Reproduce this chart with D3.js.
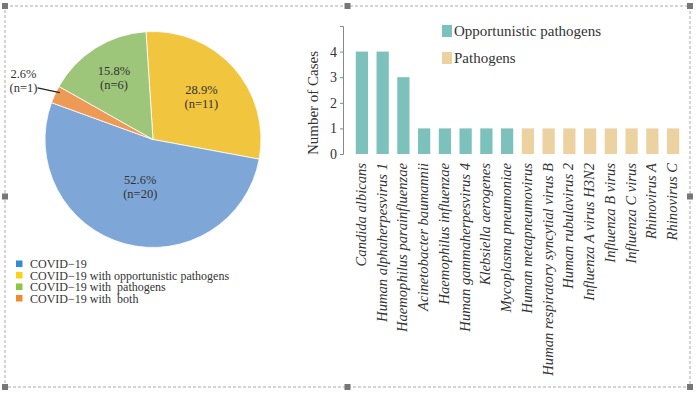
<!DOCTYPE html>
<html>
<head>
<meta charset="utf-8">
<script src="https://cdn.jsdelivr.net/npm/d3@7"></script>
<style>
  body { margin: 0; background: #fff; }
  svg text { font-family: "Liberation Serif", "Times New Roman", Times, serif !important; fill: #333; }
</style>
</head>
<body>
<div id="chart"></div>
<script>
// pie data
const groups = ["COVID−19", "COVID−19 with opportunistic pathogens", "COVID−19 with  pathogens", "COVID−19 with  both"]
const groupCounts = [20, 11, 6, 1]
// drawing order round the pie, clockwise from the top
const pieOrder = [1, 0, 3, 2]

// bar data
const organisms = ["Candida albicans", "Human alphaherpesvirus 1", "Haemophilus parainfluenzae",
  "Acinetobacter baumannii", "Haemophilus influenzae", "Human gammaherpesvirus 4",
  "Klebsiella aerogenes", "Mycoplasma pneumoniae", "Human metapneumovirus",
  "Human respiratory syncytial virus B", "Human rubulavirus 2", "Influenza A virus H3N2",
  "Influenza B virus", "Influenza C virus", "Rhinovirus A", "Rhinovirus C"]
const cases = [4, 4, 3, 1, 1, 1, 1, 1, 1, 1, 1, 1, 1, 1, 1, 1]
const kind = ["Opportunistic pathogens", "Opportunistic pathogens", "Opportunistic pathogens",
  "Opportunistic pathogens", "Opportunistic pathogens", "Opportunistic pathogens",
  "Opportunistic pathogens", "Opportunistic pathogens", "Pathogens", "Pathogens", "Pathogens",
  "Pathogens", "Pathogens", "Pathogens", "Pathogens", "Pathogens"]
const kinds = ["Opportunistic pathogens", "Pathogens"]
const yTicks = [0, 1, 2, 3, 4, 5]

const w = 700
const h = 393
const serif = "'Liberation Serif', 'Times New Roman', serif"
const svg = d3.select("#chart")
  .append("svg")
  .attr("width", w)
  .attr("height", h)
  .attr("font-family", serif)

// ---------- pie ----------
const sliceColors = ["#7ea7d8", "#f1c53e", "#9dc67b", "#ee9a57"]
const legendColors = ["#2f8ed2", "#f8d21c", "#8dc641", "#ef8a2d"]
const cx = 153, cy = 139.5, R = 108
const labelR = [0.45, 0.6, 0.68, 1.32]
const total = d3.sum(groupCounts)

const startA = -0.065
const pie = d3.pie()
  .sort(null)
  .value(i => groupCounts[i])
  .startAngle(startA)
  .endAngle(startA + 2 * Math.PI)
const arcs = pie(pieOrder)
const arc = d3.arc().innerRadius(0).outerRadius(R)

const pg = svg.append("g").attr("transform", `translate(${cx},${cy})`)
pg.selectAll("path")
  .data(arcs)
  .enter()
  .append("path")
  .attr("d", arc)
  .attr("fill", d => sliceColors[d.data])
  .attr("stroke", "#fff")
  .attr("stroke-width", 0.8)

const pos = (d, r) => {
  const a = (d.startAngle + d.endAngle) / 2
  return [Math.sin(a) * r, -Math.cos(a) * r]
}
arcs.forEach(d => {
  const i = d.data
  const [lx, ly] = pos(d, R * labelR[i])
  const t = pg.append("text")
    .attr("text-anchor", "middle")
    .attr("font-size", 12.5)
    .attr("fill", "#333")
  t.append("tspan").attr("x", lx).attr("y", ly - 2).text(d3.format(".1f")(groupCounts[i] / total * 100) + "%")
  t.append("tspan").attr("x", lx).attr("y", ly + 12).text(`(n=${groupCounts[i]})`)
  if (labelR[i] > 1) {
    const [ax, ay] = pos(d, R * 0.95)
    pg.append("line")
      .attr("x1", lx + 14).attr("y1", ly + 8)
      .attr("x2", ax).attr("y2", ay - 4)
      .attr("stroke", "#222")
      .attr("stroke-width", 1.3)
  }
})

const lg = svg.append("g").attr("transform", "translate(16,259.5)")
groups.forEach((g, i) => {
  lg.append("rect")
    .attr("x", 0).attr("y", i * 11.5 + 1)
    .attr("width", 6.5).attr("height", 6.5)
    .attr("fill", legendColors[i])
  lg.append("text")
    .attr("x", 14).attr("y", i * 11.5 + 8.5)
    .attr("font-size", 12)
    .attr("fill", "#333")
    .style("white-space", "pre")
    .text(g)
})

// ---------- bars ----------
const barColor = d3.scaleOrdinal().domain(kinds).range(["#7cc1bb", "#ecd2a0"])
const x = d3.scaleBand()
  .domain(organisms)
  .range([345, 690])
  .paddingInner(0.41)
  .paddingOuter(0.52)
const y = d3.scaleLinear().domain([0, 5]).range([154, 26])

svg.selectAll(".bar")
  .data(organisms)
  .enter()
  .append("rect")
  .attr("class", "bar")
  .attr("x", d => x(d))
  .attr("width", x.bandwidth())
  .attr("y", (d, i) => y(cases[i]))
  .attr("height", (d, i) => y(0) - y(cases[i]))
  .attr("fill", (d, i) => barColor(kind[i]))

const yAxis = d3.axisLeft(y)
  .tickValues(yTicks)
  .tickFormat(v => v === 5 ? "" : v)
  .tickSize(3)
  .tickPadding(3)
const ya = svg.append("g")
  .attr("transform", "translate(343,0)")
  .call(yAxis)
ya.attr("font-family", serif)
ya.select(".domain").attr("stroke", "#888")
ya.selectAll(".tick line").attr("stroke", "#888")
ya.selectAll(".tick text")
  .attr("font-size", 14)
  .attr("fill", "#333")

svg.append("text")
  .attr("transform", "rotate(-90)")
  .attr("x", -103)
  .attr("y", 318)
  .attr("text-anchor", "middle")
  .attr("font-size", 15)
  .text("Number of Cases")

svg.selectAll(".xlab")
  .data(organisms)
  .enter()
  .append("text")
  .attr("class", "xlab")
  .attr("transform", d => `translate(${x(d) + x.bandwidth() / 2 + 4},163) rotate(-90)`)
  .attr("text-anchor", "end")
  .attr("font-size", 14.6)
  .attr("font-style", "italic")
  .text(d => d)

const bl = svg.append("g").attr("transform", "translate(442,25)")
kinds.forEach((k, i) => {
  bl.append("rect")
    .attr("x", 0).attr("y", i * 27)
    .attr("width", 10).attr("height", 12)
    .attr("fill", barColor(k))
  bl.append("text")
    .attr("x", 12).attr("y", i * 27 + 11)
    .attr("font-size", 15)
    .text(k)
})

// ---------- selection frame ----------
const fx0 = 5, fy0 = 6, fx1 = 690, fy1 = 387
svg.append("rect")
  .attr("x", fx0).attr("y", fy0)
  .attr("width", fx1 - fx0).attr("height", fy1 - fy0)
  .attr("fill", "none")
  .attr("stroke", "#aaa")
  .attr("stroke-dasharray", "3,2")
const hx = [fx0, (fx0 + fx1) / 2, fx1]
const hy = [fy0, (fy0 + fy1) / 2, fy1]
hx.forEach((a, i) => hy.forEach((b, j) => {
  if (i === 1 && j === 1) return
  svg.append("rect")
    .attr("x", a - 3).attr("y", b - 3)
    .attr("width", 6).attr("height", 6)
    .attr("fill", "#777")
}))
</script>
</body>
</html>
